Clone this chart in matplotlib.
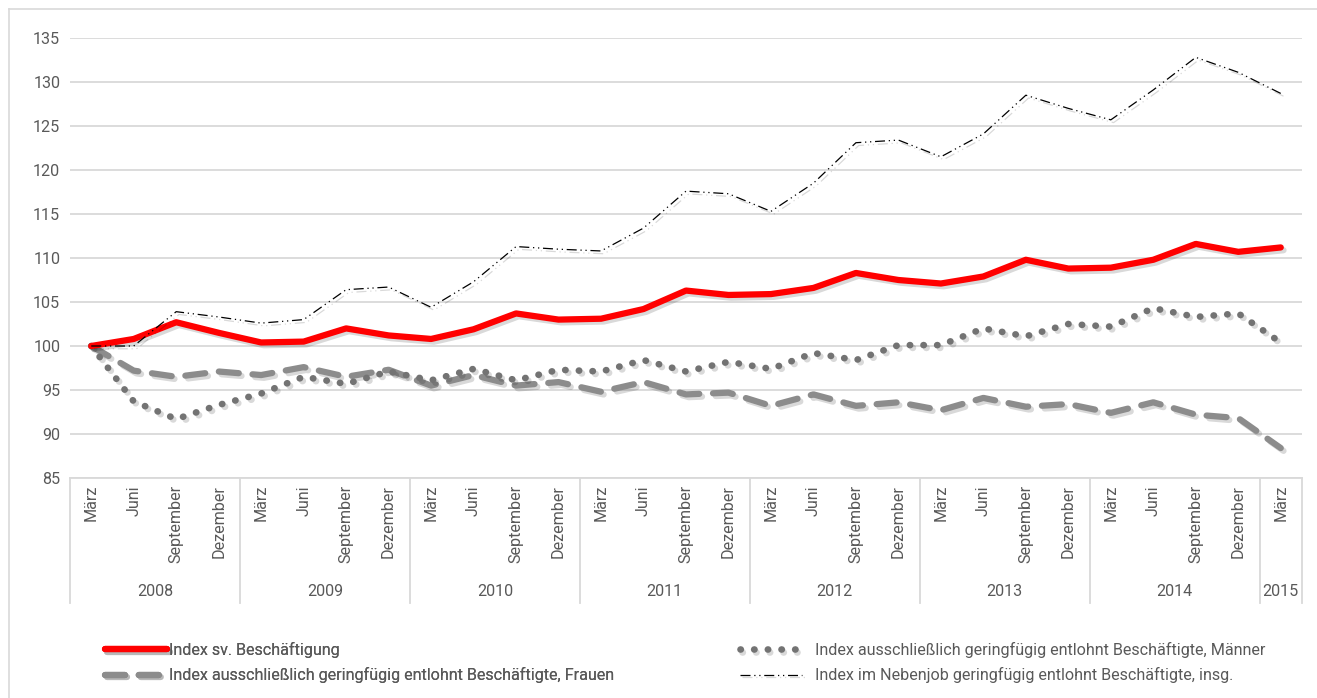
import matplotlib
matplotlib.use("Agg")
import matplotlib.pyplot as plt
import matplotlib.patheffects as pe
from matplotlib.lines import Line2D

plt.rcParams['font.family'] = ['Roboto', 'DejaVu Sans']

# -------------------------------
# Data
# -------------------------------
months = ["März", "Juni", "September", "Dezember"] * 7 + ["März"]
years = ["2008", "2009", "2010", "2011", "2012", "2013", "2014", "2015"]

sv_besch = [100.0, 100.8, 102.7, 101.5, 100.4, 100.5, 102.0, 101.2,
            100.8, 101.9, 103.7, 103.0, 103.1, 104.2, 106.3, 105.8,
            105.9, 106.6, 108.3, 107.5, 107.1, 107.9, 109.8, 108.8,
            108.9, 109.8, 111.6, 110.7, 111.2]

maenner = [100.0, 93.7, 91.7, 93.3, 94.6, 96.5, 95.7, 97.1,
           96.1, 97.4, 96.1, 97.3, 97.1, 98.4, 97.1, 98.2,
           97.4, 99.2, 98.4, 100.1, 100.1, 102.0, 101.1, 102.5,
           102.2, 104.3, 103.3, 103.7, 100.4]

frauen = [100.0, 97.2, 96.5, 97.1, 96.7, 97.6, 96.5, 97.3,
          95.5, 96.7, 95.5, 95.9, 94.8, 95.9, 94.5, 94.7,
          93.2, 94.5, 93.2, 93.6, 92.7, 94.1, 93.1, 93.4,
          92.4, 93.6, 92.2, 91.8, 88.4]

nebenjob = [100.0, 100.0, 103.9, 103.3, 102.6, 103.0, 106.4, 106.7,
            104.4, 107.3, 111.3, 111.0, 110.8, 113.4, 117.6, 117.3,
            115.3, 118.5, 123.1, 123.4, 121.5, 124.1, 128.5, 127.0,
            125.7, 129.1, 132.8, 131.1, 128.7]

x = list(range(len(months)))

# -------------------------------
# Figure
# -------------------------------
W, H = 1317, 698
FS = 11.6
TXT = "#595959"
fig = plt.figure(figsize=(W / 100, H / 100), dpi=100)
ax = fig.add_axes([70 / W, 1 - 478 / H, 1232 / W, 440 / H])

shadow = [pe.SimpleLineShadow(offset=(2, -2), alpha=0.15), pe.Normal()]

l_sv, = ax.plot(x, sv_besch, color="#FF0000", lw=4.5, solid_capstyle="round",
                solid_joinstyle="round", path_effects=shadow, zorder=5,
                label="Index sv. Beschäftigung")
l_m, = ax.plot(x, maenner, color="#737373", lw=4.8, dashes=(0.05, 2.0),
               dash_capstyle="round", path_effects=shadow, zorder=4,
               label="Index ausschließlich geringfügig entlohnt Beschäftigte, Männer")
l_f, = ax.plot(x, frauen, color="#8C8C8C", lw=4.5, dashes=(3.2, 2.2),
               dash_capstyle="round", path_effects=shadow, zorder=3,
               label="Index ausschließlich geringfügig entlohnt Beschäftigte, Frauen")
l_n, = ax.plot(x, nebenjob, color="black", lw=0.9, dashes=(8, 3, 1, 3, 1, 3),
               path_effects=shadow, zorder=6,
               label="Index im Nebenjob geringfügig entlohnt Beschäftigte, insg.")

ax.set_xlim(-0.5, len(months) - 0.5)
ax.set_ylim(85, 135)
ax.set_yticks(range(85, 136, 5))
ax.tick_params(axis="y", length=0, pad=7, labelsize=FS, labelcolor=TXT)
ax.set_xticks([])
ax.grid(axis="y", color="#D9D9D9", lw=1.3)
ax.set_axisbelow(True)
for s in ["left", "right", "top"]:
    ax.spines[s].set_visible(False)
ax.spines["bottom"].set_color("#D9D9D9")
ax.spines["bottom"].set_linewidth(1.3)

# Month labels
trans = ax.get_xaxis_transform()
for i, m in enumerate(months):
    ax.text(i, -0.016, m, rotation=90, ha="center", va="top", fontsize=FS,
            color=TXT, transform=trans)

# Year separators and labels
bounds = [-0.5 + 4 * k for k in range(8)] + [len(months) - 0.5]
for b in bounds:
    ax.plot([b, b], [0, -0.284], color="#D9D9D9", lw=1.3, transform=trans,
            clip_on=False)
for k, yr in enumerate(years):
    mid = (bounds[k] + bounds[k + 1]) / 2
    ax.text(mid, -0.258, yr, ha="center", va="center", fontsize=FS,
            color=TXT, transform=trans)

# Legend
leg1 = fig.legend(handles=[l_sv, l_f], loc="upper left",
                  bbox_to_anchor=(90 / W, 1 - 627 / H), frameon=False,
                  handlelength=3.9, handletextpad=0.1, labelspacing=0.6,
                  fontsize=FS, labelcolor=TXT)
leg2 = fig.legend(handles=[l_m, l_n], loc="upper left",
                  bbox_to_anchor=(725 / W, 1 - 627 / H), frameon=False,
                  handlelength=3.9, handletextpad=0.8, labelspacing=0.6,
                  fontsize=FS, labelcolor=TXT)
fig.add_artist(leg1)

# Outer frame (left and top edges visible)
fig.add_artist(Line2D([9 / W, 9 / W], [0, 1 - 9 / H], color="#D9D9D9", lw=1.2,
                      transform=fig.transFigure))
fig.add_artist(Line2D([9 / W, 1], [1 - 9 / H, 1 - 9 / H], color="#D9D9D9", lw=1.2,
                      transform=fig.transFigure))

plt.savefig("out.png", dpi=100)
